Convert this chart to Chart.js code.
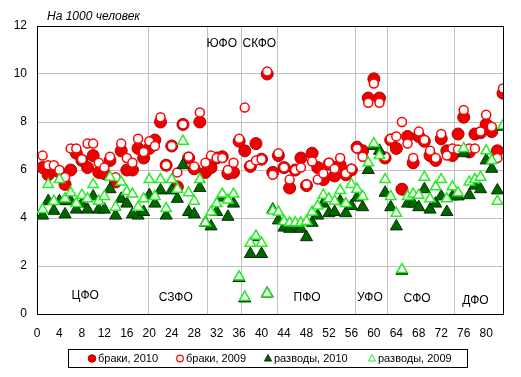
<!DOCTYPE html>
<html>
<head>
<meta charset="utf-8">
<script src="https://cdn.jsdelivr.net/npm/chart.js@4"></script>
<style>
html, body { margin: 0; padding: 0; background: #fff; }
</style>
</head>
<body>
<canvas id="chart" width="521" height="377"></canvas>
<script>
// region numbers 1..83 (x positions)
var regions = [];
for (var r = 1; r <= 83; r++) regions.push(r);

var marriages2010 = [6.1, 5.8, 6.0, 5.9, 5.4, 6.0, 6.7, 6.4, 6.1, 6.6, 5.9, 5.85, 6.4, 5.5, 6.8, 6.0, 6.0, 6.9, 6.5,
    6.9, 7.25, 8.0, 6.2, 7.0, 5.3, 7.9, 6.5, 6.05, 8.0, 5.9,
    6.1, 6.5, 6.55, 5.85, 5.9, 7.2,
    6.8, 6.15, 7.1, 6.45, 10.0, 5.9,
    6.6, 6.1, 5.25, 6.0, 6.5, 5.35, 6.7, 6.1, 5.6, 6.25, 5.75, 6.2, 5.8, 6.0,
    6.95, 6.8, 9.0, 9.8, 9.0, 6.5,
    7.25, 6.9, 5.2, 7.4, 6.3, 7.4, 7.2, 6.6, 6.4, 7.3, 6.8, 6.6,
    7.5, 8.2, 6.75, 7.5, 7.55, 7.9, 7.6, 6.8, 9.2];

var marriages2009 = [6.6, 6.2, 6.2, 6.0, 5.7, 6.9, 6.9, 6.45, 7.1, 7.1, 6.3, 6.1, 6.55, 5.7, 7.1, 6.5, 6.3, 7.3, 6.75,
    7.2, 7.0, 8.2, 6.2, 7.0, 5.9, 7.9, 6.55, 6.15, 8.4, 6.3,
    6.6, 6.5, 6.5, 6.0, 6.3, 7.3,
    8.6, 6.2, 6.4, 6.45, 10.1, 5.8,
    6.7, 6.1, 5.6, 6.0, 6.1, 5.4, 6.35, 5.6, 5.85, 6.3, 6.05, 6.5, 5.85, 6.05,
    6.9, 6.55, 8.8, 9.6, 8.8, 6.55,
    7.3, 7.4, 8.0, 7.1, 6.5, 7.6, 7.25, 6.8, 6.5, 7.5, 6.6, 6.9,
    6.85, 8.5, 6.9, 6.9, 7.6, 8.3, 7.8, 6.5, 9.4];

var divorces2010 = [4.1, 4.7, 4.3, 4.7, 4.15, 4.7, 4.35, 4.6, 4.35, 4.9, 4.35, 4.35, 5.2, 4.1, 4.8, 4.6, 4.15, 4.1, 4.25,
    4.95, 4.6, 5.15, 4.1, 5.15, 4.8, 6.2, 4.25, 4.15, 5.25, 3.8,
    3.65, 4.25, 4.85, 4.05, 4.6, 1.5,
    0.65, 2.5, 3.2, 2.5, 0.85, 4.35,
    3.9, 3.6, 3.55, 3.65, 3.55, 3.2, 3.8, 4.1, 4.6, 4.2, 4.25, 4.7, 4.2, 4.5,
    4.85, 4.45, 6.0, 7.0, 6.8, 5.05,
    4.45, 3.65, 1.8, 4.6, 4.6, 4.45, 5.2, 4.35, 4.6, 4.9, 4.25, 4.9,
    4.9, 6.7, 4.95, 5.35, 5.2, 6.4, 6.05, 5.15, 7.8];

var divorces2009 = [4.35, 5.4, 4.7, 5.6, 4.8, 5.05, 4.6, 4.95, 4.8, 5.4, 4.7, 4.9, 5.7, 4.45, 5.5, 5.1, 5.0, 4.45, 4.8,
    5.6, 4.9, 5.6, 4.4, 5.6, 5.2, 7.2, 5.05, 4.7, 5.6, 3.8,
    4.25, 4.6, 5.0, 4.75, 5.0, 1.55,
    0.7, 2.95, 3.25, 2.95, 0.85, 4.3,
    4.25, 3.85, 3.8, 3.8, 3.8, 3.85, 4.25, 4.5, 4.95, 4.8, 4.7, 5.15, 4.6, 5.4,
    5.2, 4.9, 6.3, 7.1, 6.6, 5.6,
    4.9, 4.2, 1.85, 4.9, 5.0, 4.95, 5.7, 4.8, 5.3, 5.6, 4.8, 5.3,
    5.05, 6.9, 5.5, 5.6, 5.7, 6.8, 6.4, 4.7, 7.85];

var seriesNames = ["браки, 2010", "браки, 2009", "разводы, 2010", "разводы, 2009"];
var xTicks = [0, 4, 8, 12, 16, 20, 24, 28, 32, 36, 40, 44, 48, 52, 56, 60, 64, 68, 72, 76, 80];

// federal districts: labels, label anchor (data units), boundaries
var districts = ["ЦФО", "СЗФО", "ЮФО", "СКФО", "ПФО", "УФО", "СФО", "ДФО"];
var districtLabelX = [8.6, 24.7, 32.9, 39.6, 48.1, 59.3, 67.7, 78.1];
var districtLabelY = [0.75, 0.7, 11.28, 11.28, 0.67, 0.7, 0.62, 0.55];
var districtBounds = [19.75, 30.2, 36.25, 42.7, 56.6, 62.4, 74.2];

var FONT = 'Arial, "Liberation Sans", sans-serif';

function pts(arr) {
    return regions.map(function (x, i) { return { x: x, y: arr[i] }; });
}

var styles = [
    { bg: '#ee0000', border: '#b00000', shape: 'circle', radius: 6, bw: 1, order: 4 },
    { bg: '#ffffff', border: '#ff0000', shape: 'circle', radius: 4.5, bw: 1.5, order: 3 },
    { bg: '#006600', border: '#003300', shape: 'triangle', radius: 7, bw: 1, order: 2 },
    { bg: '#ffffff', border: '#22ee22', shape: 'triangle', radius: 6, bw: 1.5, order: 1 }
];
var allSeries = [marriages2010, marriages2009, divorces2010, divorces2009];

var datasets = allSeries.map(function (arr, k) {
    var s = styles[k];
    return {
        label: seriesNames[k],
        data: pts(arr),
        pointStyle: s.shape,
        pointRadius: s.radius,
        pointBackgroundColor: s.bg,
        pointBorderColor: s.border,
        pointBorderWidth: s.bw,
        showLine: false,
        order: s.order
    };
});

var extras = {
    id: 'extras',
    beforeDatasetsDraw: function (chart) {
        var ctx = chart.ctx, a = chart.chartArea, xs = chart.scales.x;
        ctx.save();
        ctx.strokeStyle = '#c0c0c0';
        ctx.lineWidth = 1;
        districtBounds.forEach(function (b) {
            var px = Math.round(xs.getPixelForValue(b)) + 0.5;
            ctx.beginPath();
            ctx.moveTo(px, a.top);
            ctx.lineTo(px, a.bottom);
            ctx.stroke();
        });
        ctx.strokeStyle = '#000';
        ctx.strokeRect(Math.round(a.left) + 0.5, Math.round(a.top) + 0.5,
            Math.round(a.right - a.left), Math.round(a.bottom - a.top));
        ctx.restore();
    },
    afterDatasetsDraw: function (chart) {
        var ctx = chart.ctx, xs = chart.scales.x, ys = chart.scales.y;
        ctx.save();
        ctx.fillStyle = '#000';
        ctx.font = '12px ' + FONT;
        ctx.textAlign = 'center';
        ctx.textBaseline = 'middle';
        districts.forEach(function (d, i) {
            ctx.fillText(d, xs.getPixelForValue(districtLabelX[i]), ys.getPixelForValue(districtLabelY[i]));
        });
        // title
        ctx.font = 'italic 12px ' + FONT;
        ctx.textAlign = 'left';
        ctx.fillText('На 1000 человек', 47, 17);

        // legend
        ctx.strokeStyle = '#000';
        ctx.lineWidth = 1;
        ctx.strokeRect(68.5, 349.5, 399, 18);
        var lx = [92, 180, 268, 372];
        var ly = 358.5;
        ctx.font = '11px ' + FONT;
        for (var k = 0; k < 4; k++) {
            var s = styles[k];
            ctx.fillStyle = s.bg;
            ctx.strokeStyle = s.border;
            ctx.lineWidth = s.shape === 'circle' && k === 1 ? 1.2 : 1;
            ctx.beginPath();
            if (s.shape === 'circle') {
                ctx.arc(lx[k], ly, k === 0 ? 3.8 : 3.3, 0, Math.PI * 2);
            } else {
                ctx.moveTo(lx[k], ly - 4);
                ctx.lineTo(lx[k] + 3.5, ly + 2.5);
                ctx.lineTo(lx[k] - 3.5, ly + 2.5);
                ctx.closePath();
            }
            ctx.fill();
            ctx.stroke();
            ctx.fillStyle = '#000';
            ctx.fillText(seriesNames[k], lx[k] + 6, ly);
        }
        ctx.restore();
    }
};

new Chart(document.getElementById('chart'), {
    type: 'scatter',
    data: { datasets: datasets },
    options: {
        responsive: false,
        animation: false,
        layout: { padding: { top: 26, right: 18, bottom: 0, left: 0 } },
        plugins: {
            legend: { display: false },
            tooltip: { enabled: false },
            title: { display: false }
        },
        scales: {
            x: {
                type: 'linear',
                min: 0,
                max: 83,
                afterBuildTicks: function (s) { s.ticks = xTicks.map(function (v) { return { value: v }; }); },
                afterFit: function (s) { s.height = 63; },
                ticks: { color: '#000', font: { family: FONT, size: 12 }, padding: 12, maxRotation: 0, autoSkip: false },
                grid: { display: false, drawTicks: false },
                border: { display: true, color: '#000' }
            },
            y: {
                min: 0,
                max: 12,
                afterFit: function (s) { s.width = 37; },
                ticks: { stepSize: 2, color: '#000', font: { family: FONT, size: 12 }, padding: 10 },
                grid: { color: '#c0c0c0', drawTicks: false },
                border: { display: true, color: '#000' }
            }
        }
    },
    plugins: [extras]
});
</script>
</body>
</html>
